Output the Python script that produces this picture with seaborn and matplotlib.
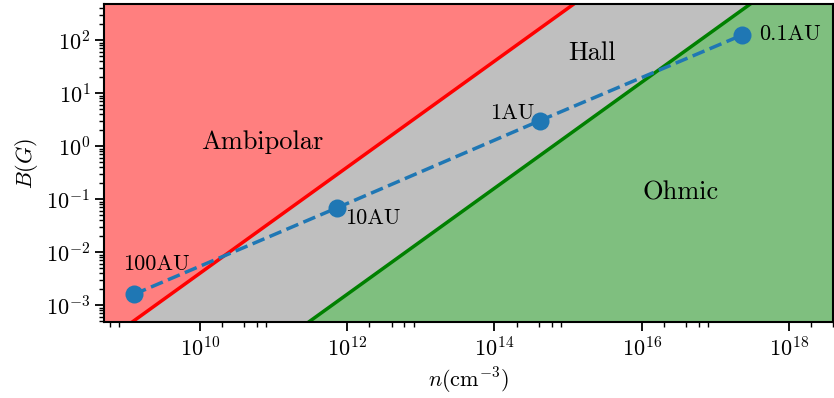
import numpy as np
import pandas as pd
import matplotlib
matplotlib.use('Agg')
import matplotlib.pyplot as plt
import matplotlib.ticker as mticker
import seaborn as sns

# boundary lines (read at the x limits)
n_edges = [5e8, 5e18]
ambi_B = [2e-4, 2e6]
ohmic_B = [8e-7, 8e3]

# disc profile points
labels = ['100AU', '10AU', '1AU', '0.1AU']
n_pts = [1.27e9, 7.2e11, 4.1e14, 2.3e17]
B_pts = [1.6e-3, 6.8e-2, 3.0, 124.0]

# axis ticks
x_major = [1e10, 1e12, 1e14, 1e16, 1e18]
y_major = [1e-3, 1e-2, 1e-1, 1e0, 1e1, 1e2]
# minor ticks on x only show in the even decades
x_minor_decades = [8, 10, 12, 14, 16, 18]
x_minor_subs = [2, 4, 6, 8]

sns.set_style('ticks')
plt.rcParams['font.family'] = ['cmr10']
plt.rcParams['mathtext.fontset'] = 'cm'
plt.rcParams['axes.formatter.use_mathtext'] = True
plt.rcParams['axes.edgecolor'] = 'black'
plt.rcParams['text.color'] = 'black'
plt.rcParams['axes.labelcolor'] = 'black'
plt.rcParams['xtick.color'] = 'black'
plt.rcParams['ytick.color'] = 'black'

fig = plt.figure(figsize=(8.34, 3.98), dpi=100)
ax = fig.add_axes([0.125, 0.191, 0.874, 0.799])
ax.set_xscale('log')
ax.set_yscale('log')

lo, hi = 1e-12, 1e12
ax.fill_between(n_edges, ambi_B, [hi, hi], color='red', alpha=0.5, lw=0)
ax.fill_between(n_edges, ohmic_B, ambi_B, color='gray', alpha=0.5, lw=0)
ax.fill_between(n_edges, [lo, lo], ohmic_B, color='green', alpha=0.5, lw=0)
ax.plot(n_edges, ambi_B, color='red', lw=2.5)
ax.plot(n_edges, ohmic_B, color='green', lw=2.5)

df = pd.DataFrame({'n': n_pts, 'B': B_pts})
sns.lineplot(data=df, x='n', y='B', ax=ax, color='C0', lw=2.5, ls='--',
             marker='o', markersize=13, markeredgewidth=0)

fs = 16
ax.text(n_pts[0] * 2.0, B_pts[0] * 2.9, labels[0], fontsize=fs, ha='center')
ax.text(n_pts[1] * 1.3, B_pts[1] * 0.5, labels[1], fontsize=fs, ha='left')
ax.text(n_pts[2] * 0.85, B_pts[2] * 1.1, labels[2], fontsize=fs, ha='right')
ax.text(n_pts[3] * 1.7, B_pts[3] * 0.8, labels[3], fontsize=fs, ha='left')

ax.text(7e10, 1.2, 'Ambipolar', fontsize=19, ha='center', va='center')
ax.text(2.1e15, 57, 'Hall', fontsize=19, ha='center', va='center')
ax.text(3.4e16, 0.135, 'Ohmic', fontsize=19, ha='center', va='center')

ax.set_xlim(5e8, 4e18)
ax.set_ylim(4.8e-4, 4.8e2)
ax.set_xlabel(r'$n(\mathrm{cm}^{-3})$', fontsize=16)
ax.set_ylabel(r'$B(G)$', fontsize=16)

ax.xaxis.set_major_locator(mticker.FixedLocator(x_major))
ax.yaxis.set_major_locator(mticker.FixedLocator(y_major))
ax.xaxis.set_major_formatter(mticker.LogFormatterSciNotation())
ax.yaxis.set_major_formatter(mticker.LogFormatterSciNotation())
ax.xaxis.set_minor_locator(mticker.FixedLocator(
    [s * 10.0 ** d for d in x_minor_decades for s in x_minor_subs]))
ax.yaxis.set_minor_locator(mticker.LogLocator(base=10, subs=np.arange(2, 10), numticks=20))
ax.xaxis.set_minor_formatter(mticker.NullFormatter())
ax.yaxis.set_minor_formatter(mticker.NullFormatter())
ax.tick_params(which='major', labelsize=16, length=6.5, width=1.3, direction='out')
ax.tick_params(which='minor', length=3.5, width=1.0, direction='out')
for s in ax.spines.values():
    s.set_linewidth(1.5)

fig.savefig('out.png', dpi=100)
